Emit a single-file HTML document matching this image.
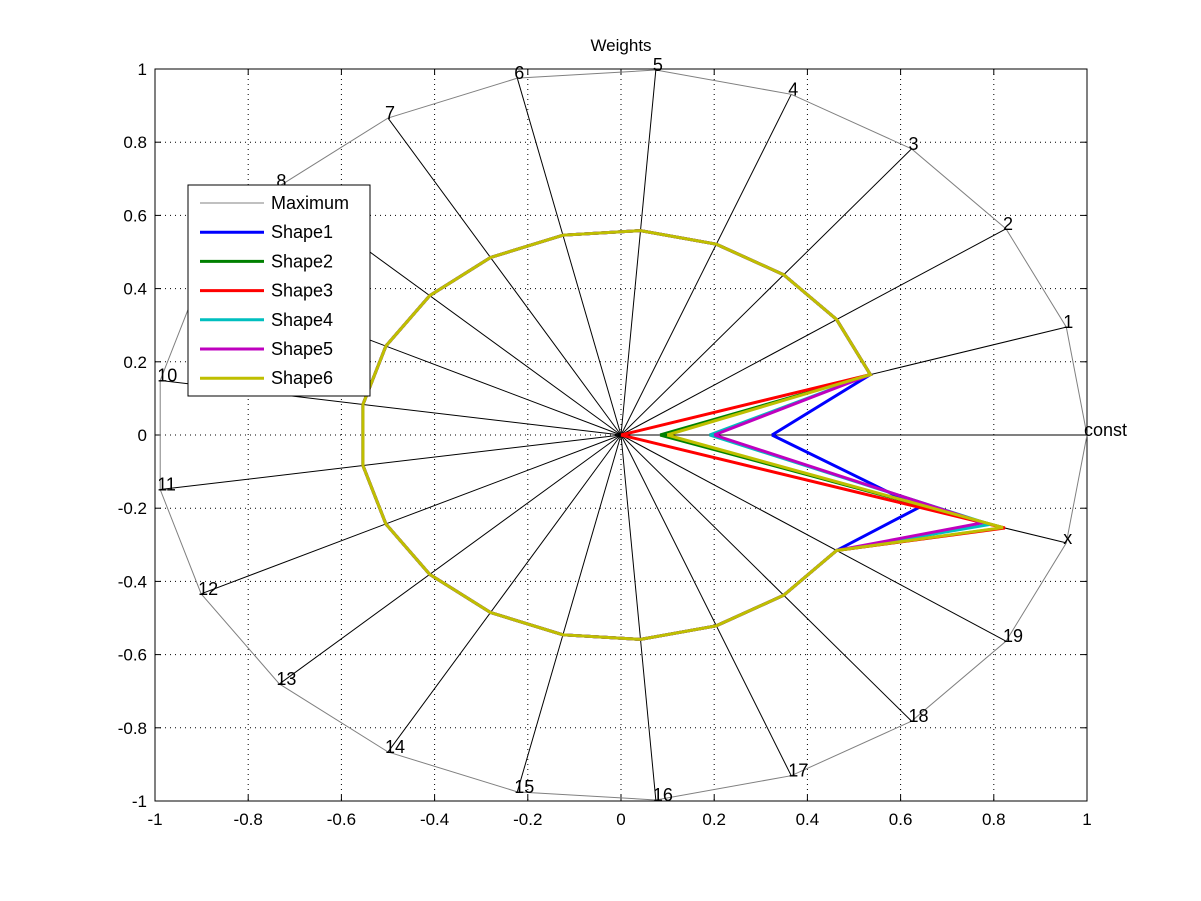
<!DOCTYPE html>
<html><head><meta charset="utf-8"><style>
html,body{margin:0;padding:0;background:#fff;}
svg{display:block;font-family:"Liberation Sans",sans-serif;}
</style></head><body>
<svg id="s" width="1201" height="901" viewBox="0 0 1201 901" xmlns="http://www.w3.org/2000/svg"></svg>
<script>
const s=document.getElementById('s');
const X=v=>621+466*v, Y=v=>435-366*v;
let h='<rect x="0" y="0" width="1201" height="901" fill="#fff"/>';
for(let i=-4;i<=4;i++){const v=i*0.2;
h+=`<line x1="${X(v)}" y1="${Y(1)}" x2="${X(v)}" y2="${Y(-1)}" stroke="#000" stroke-width="1" stroke-dasharray="1,4"/>`;
h+=`<line x1="${X(-1)}" y1="${Y(v)}" x2="${X(1)}" y2="${Y(v)}" stroke="#000" stroke-width="1" stroke-dasharray="1,4"/>`;}
for(let i=-5;i<=5;i++){const v=i*0.2;const t=(Math.abs(v)<1e-9?'0':(+v.toFixed(1)).toString());
h+=`<line x1="${X(v)}" y1="${Y(-1)}" x2="${X(v)}" y2="${Y(-1)-6}" stroke="#000"/><line x1="${X(v)}" y1="${Y(1)}" x2="${X(v)}" y2="${Y(1)+6}" stroke="#000"/>`;
h+=`<line x1="${X(-1)}" y1="${Y(v)}" x2="${X(-1)+6}" y2="${Y(v)}" stroke="#000"/><line x1="${X(1)}" y1="${Y(v)}" x2="${X(1)-6}" y2="${Y(v)}" stroke="#000"/>`;
h+=`<text x="${X(v)}" y="825" font-size="17" text-anchor="middle">${t}</text>`;
h+=`<text x="147" y="${Y(v)+6}" font-size="17" text-anchor="end">${t}</text>`;}
h+=`<rect x="${X(-1)}" y="${Y(1)}" width="${466*2}" height="${366*2}" fill="none" stroke="#000"/>`;
const N=21, names=['const','1','2','3','4','5','6','7','8','9','10','11','12','13','14','15','16','17','18','19','x'];
const ang=k=>k*2*Math.PI/N;
const P=(k,r)=>[X(r*Math.cos(ang(k))),Y(r*Math.sin(ang(k)))];
for(let k=0;k<N;k++){const p=P(k,1);h+=`<line x1="${X(0)}" y1="${Y(0)}" x2="${p[0]}" y2="${p[1]}" stroke="#000" stroke-width="1"/>`;}
let pts=[];for(let k=0;k<=N;k++)pts.push(P(k%N,1).join(','));
h+=`<polyline points="${pts.join(' ')}" fill="none" stroke="#808080" stroke-width="1"/>`;
for(let k=0;k<N;k++){const p=P(k,1);h+=`<text x="${p[0]-3}" y="${p[1]+1}" font-size="18">${names[k]}</text>`;}
const shapes=[['#0000ff',0.324,0.67],['#008000',0.084,0.86],['#ff0000',0.0,0.862],['#00bfbf',0.19,0.829],['#bf00bf',0.2,0.813],['#bfbf00',0.099,0.858]];
for(const [c,r0,rx] of shapes){let q=[];for(let k=0;k<=N;k++){const kk=k%N;let r=0.56;if(kk===0)r=r0;if(kk===20)r=rx;q.push(P(kk,r).join(','));}
h+=`<polyline points="${q.join(' ')}" fill="none" stroke="${c}" stroke-width="3" stroke-linejoin="miter"/>`;}
h+=`<text x="621" y="51" font-size="17" text-anchor="middle">Weights</text>`;
h+=`<rect x="188" y="185" width="182" height="211" fill="#fff" stroke="#000"/>`;
const leg=[['Maximum','#808080',1]].concat(shapes.map((s,i)=>['Shape'+(i+1),s[0],3]));
leg.forEach((l,i)=>{const y=203+i*29.2;h+=`<line x1="200" y1="${y}" x2="264" y2="${y}" stroke="${l[1]}" stroke-width="${l[2]}"/><text x="271" y="${y+6}" font-size="18">${l[0]}</text>`;});
s.innerHTML=h;
</script>
</body></html>
